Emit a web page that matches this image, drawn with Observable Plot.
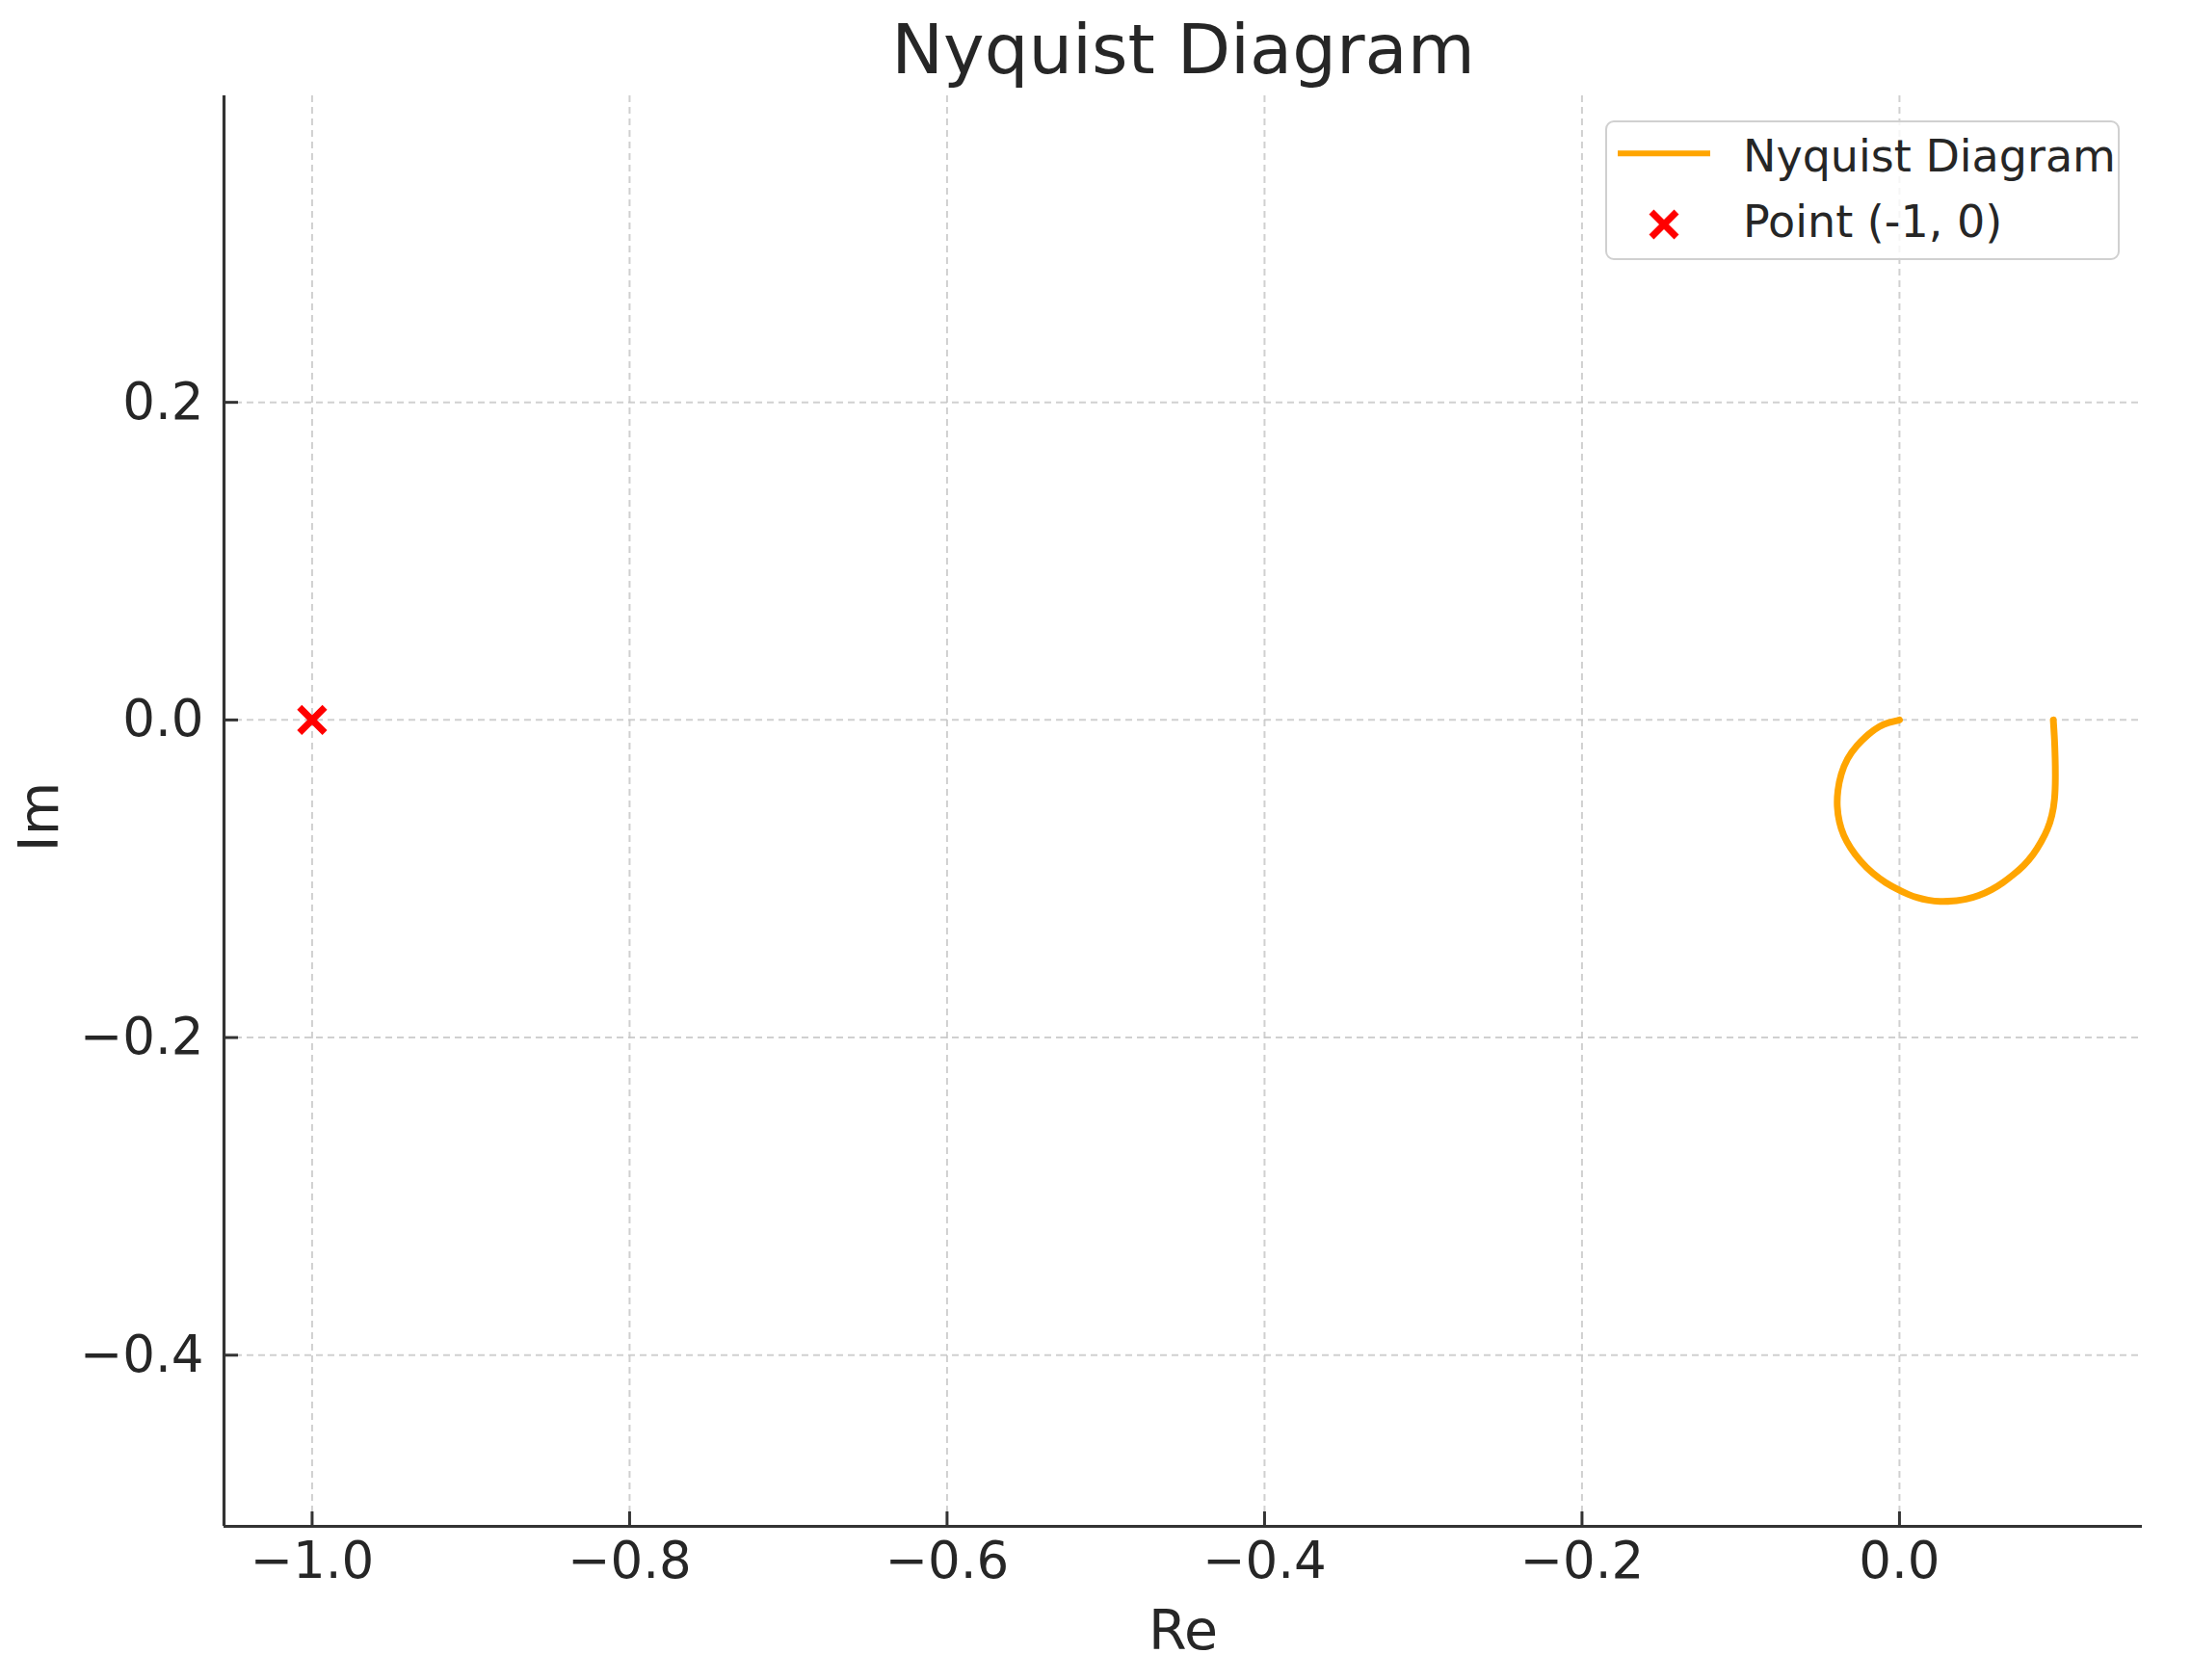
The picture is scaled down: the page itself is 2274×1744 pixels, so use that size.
<!DOCTYPE html>
<html><head><meta charset="utf-8">
<script src="https://cdn.jsdelivr.net/npm/d3@7"></script>
<script src="https://cdn.jsdelivr.net/npm/@observablehq/plot@0.6"></script>
<style>
html,body{margin:0;padding:0;background:#fff;}
#wrap{position:relative;width:2274px;height:1744px;}
#legend{position:absolute;left:1666px;top:125px;width:534px;height:145px;box-sizing:border-box;border:2.5px solid #d0d0d0;border-radius:9px;background:rgba(255,255,255,0.8);}
#legend svg{position:absolute;left:-2.5px;top:-2.5px;}
</style></head><body><div id="wrap"></div>
<script>
// Nyquist curve (Re, Im)
const reValues = [0.0969,0.0977,0.0981,0.0983,0.0979,0.0961,0.0935,0.0894,0.0844,0.0783,0.0718,0.0651,0.0581,0.0500,0.0419,0.0338,0.0257,0.0176,0.0115,0.0055,-0.0006,-0.0087,-0.0168,-0.0249,-0.0310,-0.0354,-0.0380,-0.0395,-0.0390,-0.0370,-0.0330,-0.0269,-0.0198,-0.0127,-0.0067,-0.0006,0.0];
const imValues = [0,-0.0120,-0.0241,-0.0362,-0.0504,-0.0605,-0.0686,-0.0767,-0.0848,-0.0919,-0.0974,-0.1026,-0.1070,-0.1107,-0.1131,-0.1141,-0.1145,-0.1135,-0.1121,-0.1099,-0.1070,-0.1026,-0.0969,-0.0888,-0.0807,-0.0727,-0.0646,-0.0545,-0.0443,-0.0342,-0.0241,-0.0160,-0.0090,-0.0039,-0.0015,-0.0003,0];
const pointRe = [-1];
const pointIm = [0];
const xTicks = [-1.0,-0.8,-0.6,-0.4,-0.2,0.0];
const yTicks = [-0.4,-0.2,0.0,0.2];
const xDomain = [-1.0555, 0.153];
const yDomain = [-0.5078, 0.393];
const titleText = "Nyquist Diagram";
const xLabel = "Re";
const yLabel = "Im";
const legendLabels = ["Nyquist Diagram", "Point (-1, 0)"];

const curve = reValues.map((r,i)=>({re:r, im:imValues[i]}));
const points = pointRe.map((r,i)=>({re:r, im:pointIm[i]}));
const fmt = d3.format(".1f");
const gridStyle = {stroke:"#c4c4c4", strokeOpacity:0.8, strokeWidth:2, strokeDasharray:"7,5"};

const plot = Plot.plot({
  width: 2274, height: 1744,
  marginLeft: 232, marginRight: 51, marginTop: 99, marginBottom: 160,
  style: {fontFamily: "DejaVu Sans", fontSize: "53px", color: "#262626", background: "white"},
  x: {domain: xDomain},
  y: {domain: yDomain},
  marks: [
    Plot.gridX(xTicks, gridStyle),
    Plot.gridY(yTicks, gridStyle),
    Plot.line(curve, {x:"re", y:"im", stroke:"#FFA500", strokeWidth:7, curve:"basis"}),
    Plot.dot(points, {x:"re", y:"im", symbol:"times", r:12, stroke:"#ff0000", strokeWidth:7}),
    Plot.ruleX([xDomain[0]], {stroke:"#333", strokeWidth:3.2}),
    Plot.ruleY([yDomain[0]], {stroke:"#333", strokeWidth:3.2}),
    Plot.axisX(xTicks, {tickSize:-15, tickPadding:31, tickFormat:fmt, stroke:"#333", strokeWidth:3, fill:"#262626", label:null}),
    Plot.axisY(yTicks, {tickSize:-15, tickPadding:36, tickFormat:fmt, stroke:"#333", strokeWidth:3, fill:"#262626", label:null}),
    Plot.text([titleText], {text:d=>d, frameAnchor:"top", dy:-24, lineAnchor:"bottom", fontSize:72, fill:"#262626"}),
    Plot.text([xLabel], {text:d=>d, frameAnchor:"bottom", dy:87, lineAnchor:"top", fontSize:57, fill:"#262626"}),
    Plot.text([yLabel], {text:d=>d, frameAnchor:"left", textAnchor:"middle", dx:-191, dy:6, rotate:-90, fontSize:57, fill:"#262626"})
  ]
});
const wrap = document.getElementById("wrap");
wrap.appendChild(plot);

// legend
const lg = document.createElement("div");
lg.id = "legend";
const ns = "http://www.w3.org/2000/svg";
const svg = document.createElementNS(ns, "svg");
svg.setAttribute("width", 534); svg.setAttribute("height", 145);
svg.innerHTML = `
  <line x1="13" x2="109" y1="34.3" y2="34.3" stroke="#FFA500" stroke-width="6"/>
  <path d="M48,95L74,121M48,121L74,95" stroke="#ff0000" stroke-width="7" fill="none"/>
  <text x="143" y="52.7" font-family="DejaVu Sans" font-size="46" fill="#262626">${legendLabels[0]}</text>
  <text x="143" y="120.7" font-family="DejaVu Sans" font-size="46" fill="#262626">${legendLabels[1]}</text>`;
lg.appendChild(svg);
wrap.appendChild(lg);
</script></body></html>
